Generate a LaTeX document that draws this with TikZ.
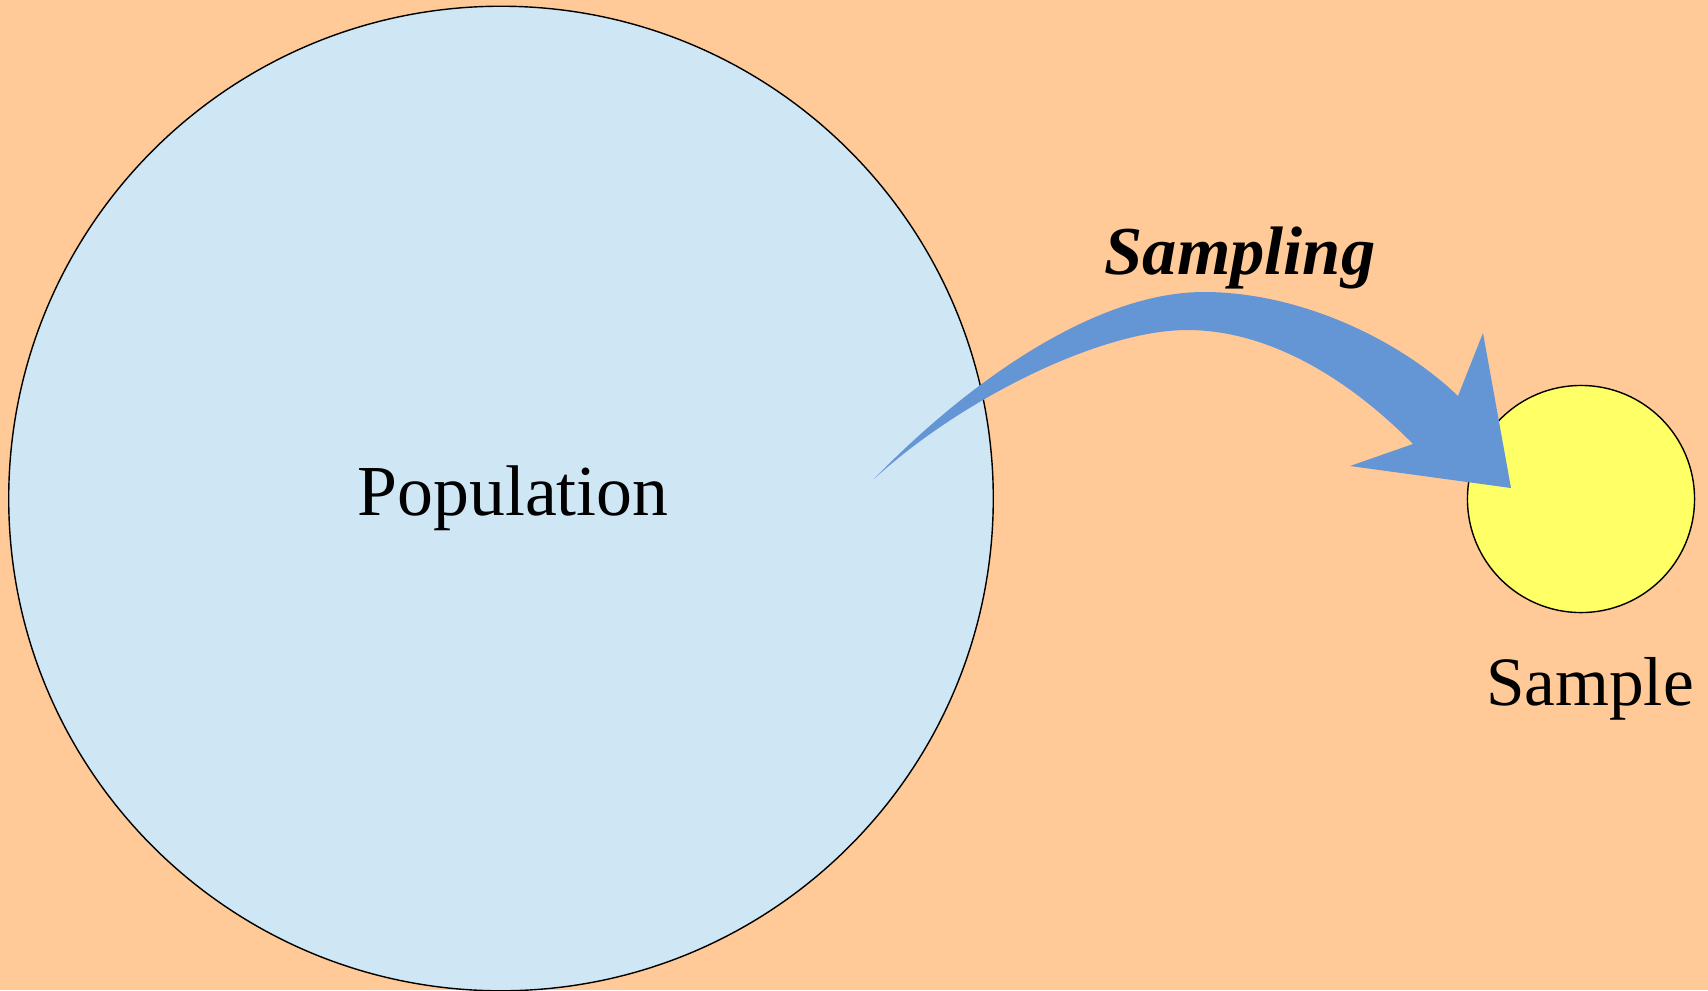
\documentclass[tikz,border=0pt]{standalone}
\usepackage{fontspec}
\setmainfont{Liberation Serif}
\definecolor{peach}{HTML}{FFCA98}
\definecolor{popblue}{HTML}{CFE6F4}
\definecolor{arrowblue}{HTML}{6495D5}
\definecolor{smpyellow}{HTML}{FFFF66}
\begin{document}
\begin{tikzpicture}[x=0.01cm,y=-0.01cm]
      \useasboundingbox (0,0) rectangle (1708,990);
      \clip (0,0) rectangle (1708,990);
      \fill[peach] (0,0) rectangle (1708,990);

      \node[circle,draw,line width=0.4pt,fill=popblue,inner sep=0pt,minimum size=9.84cm] (pop) at (501,498.5) {};
      \node[circle,draw,line width=0.4pt,fill=smpyellow,inner sep=0pt,minimum size=2.27cm] (smp) at (1581,499) {};

      % the big curved arrow
      \fill[arrowblue] (874,479) .. controls (960,390) and (1090,292) .. (1204,292)
          .. controls (1300,292) and (1400,340) .. (1458,396)
          -- (1483,333) -- (1511,488) -- (1350,466) -- (1413,444)
          .. controls (1350,380) and (1270,330) .. (1187,330)
          .. controls (1100,330) and (960,400) .. cycle;

      \node[anchor=base,font=\fontsize{20.4}{24}\selectfont] (poplabel) at (513,515) {Population};
      \node[anchor=base,font=\fontsize{19.5}{23}\selectfont\bfseries\itshape] (samplinglabel) at (1240,274) {Sampling};
      \node[anchor=base,font=\fontsize{19.7}{23}\selectfont] (smplabel) at (1590,705) {Sample};
    \end{tikzpicture}
\end{document}
